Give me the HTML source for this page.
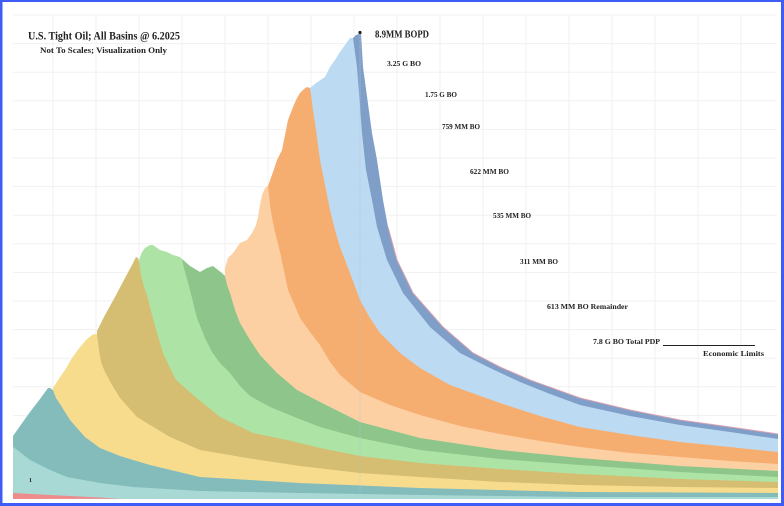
<!DOCTYPE html>
<html>
<head>
<meta charset="utf-8">
<style>
  html, body { margin:0; padding:0; background:#ffffff; }
  svg { display:block; }
  .t { font-family:"Liberation Serif", serif; font-weight:bold; fill:#222; }
</style>
</head>
<body>
<svg width="784" height="506" viewBox="0 0 784 506" xmlns="http://www.w3.org/2000/svg">
  <rect x="0" y="0" width="784" height="506" fill="#ffffff"/>
  <!-- grid -->
  <g stroke="#f1f1f1" stroke-width="1">
    <line x1="13" y1="15" x2="777" y2="15"/>
    <line x1="13" y1="43.6" x2="777" y2="43.6"/>
    <line x1="13" y1="72.2" x2="777" y2="72.2"/>
    <line x1="13" y1="100.8" x2="777" y2="100.8"/>
    <line x1="13" y1="129.4" x2="777" y2="129.4"/>
    <line x1="13" y1="158" x2="777" y2="158"/>
    <line x1="13" y1="186.6" x2="777" y2="186.6"/>
    <line x1="13" y1="215.2" x2="777" y2="215.2"/>
    <line x1="13" y1="243.8" x2="777" y2="243.8"/>
    <line x1="13" y1="272.4" x2="777" y2="272.4"/>
    <line x1="13" y1="301" x2="777" y2="301"/>
    <line x1="13" y1="329.6" x2="777" y2="329.6"/>
    <line x1="13" y1="358.2" x2="777" y2="358.2"/>
    <line x1="13" y1="386.8" x2="777" y2="386.8"/>
    <line x1="13" y1="415.4" x2="777" y2="415.4"/>
    <line x1="13" y1="444" x2="777" y2="444"/>
    <line x1="13" y1="472.6" x2="777" y2="472.6"/>
    <line x1="53" y1="15" x2="53" y2="499"/>
    <line x1="96" y1="15" x2="96" y2="499"/>
    <line x1="139" y1="15" x2="139" y2="499"/>
    <line x1="182" y1="15" x2="182" y2="499"/>
    <line x1="225" y1="15" x2="225" y2="499"/>
    <line x1="268" y1="15" x2="268" y2="499"/>
    <line x1="311" y1="15" x2="311" y2="499"/>
    <line x1="354" y1="15" x2="354" y2="499"/>
    <line x1="397" y1="15" x2="397" y2="499"/>
    <line x1="440" y1="15" x2="440" y2="499"/>
    <line x1="483" y1="15" x2="483" y2="499"/>
    <line x1="526" y1="15" x2="526" y2="499"/>
    <line x1="569" y1="15" x2="569" y2="499"/>
    <line x1="612" y1="15" x2="612" y2="499"/>
    <line x1="655" y1="15" x2="655" y2="499"/>
    <line x1="698" y1="15" x2="698" y2="499"/>
    <line x1="741" y1="15" x2="741" y2="499"/>
  </g>

  <!-- steel blue -->
  <polygon fill="#7f9fc9" points="353,499 353,38 356,35 359,34 361,33 363,67 372,133 377,160 383,200 388,227 397,260 413,293 443,327 473,353 500,367 530,380 580,398 630,410 680,420 730,427 778,434 778,499"/>
  <!-- light blue -->
  <polygon fill="#bcdbf2" points="310,499 310,88 316,83 325,77 330,67 335,60 340,52 345,45 350,38 353,38 357,67 362,133 366,170 372,200 377,227 387,260 403,293 430,327 460,353 490,368 520,382 550,394 580,405 630,416 680,425 730,432 778,439 778,499"/>
  <!-- orange -->
  <polygon fill="#f6ae70" points="268,499 268,186 273,172 277,160 282,150 285,135 288,120 293,107 297,98 300,93 304,89 307,87 310,88 311,95 313,110 316,130 320,160 325,185 330,210 335,230 340,247 350,273 360,300 370,318 380,333 400,353 420,368 450,385 500,403 540,416 580,427 630,435 680,442 730,447 778,452 778,499"/>
  <!-- peach -->
  <polygon fill="#fdd0a4" points="225,499 225,268 228,258 233,253 240,243 247,240 252,233 256,225 258,217 260,205 262,195 265,188 268,186 270,205 272,218 275,232 280,252 288,290 295,306 300,318 310,332 320,345 330,362 340,375 360,392 390,405 420,415 460,426 500,434 540,441 580,447 630,453 680,457 730,461 778,464 778,499"/>
  <!-- green -->
  <polygon fill="#8dc58a" points="182,499 182,259 190,266 200,272 207,268 213,266 218,270 223,274 225,276 227,285 230,293 235,310 240,323 250,340 260,355 277,373 297,390 320,402 360,422 420,438 500,450 580,458 680,466 778,471 778,499"/>
  <!-- light green -->
  <polygon fill="#ade3a5" points="139,499 139,260 142,252 145,248 150,245 153,245 160,250 167,252 173,255 180,257 182,259 184,268 190,290 197,318 205,338 212,352 220,363 230,373 240,386 250,396 270,407 297,418 320,427 360,438 420,450 500,459 580,465 680,472 778,477 778,499"/>
  <!-- khaki -->
  <polygon fill="#d5bd72" points="97,499 97,331 105,315 115,297 125,278 132,265 136,257 138,258 139,262 141,275 144,287 147,295 152,315 157,333 163,353 170,368 176,380 193,395 220,417 253,433 287,440 320,448 360,456 420,463 500,469 580,474 680,479 778,482 778,499"/>
  <!-- yellow -->
  <polygon fill="#f8dc8e" points="53,499 53,388 58,380 65,370 72,358 80,347 86,340 92,335 95,334 97,334 99,350 101,362 105,372 112,385 120,398 137,417 155,428 170,437 200,450 253,459 300,466 360,473 420,477 500,482 580,485 680,487 778,488 778,499"/>
  <!-- teal -->
  <polygon fill="#84bcbc" points="13,499 13,436 20,426 30,412 40,399 48,388 50,388 53,390 56,398 60,404 70,420 85,437 100,448 120,456 150,465 200,477 300,483 420,488 580,492 778,493 778,499"/>
  <!-- light teal -->
  <polygon fill="#a9d9d5" points="13,499 13,447 20,452 30,460 50,470 67,477 100,483 133,487 200,491 300,493 420,495 580,497 778,497 778,499"/>
  <!-- pink bottom -->
  <polygon fill="#ee8c8c" points="13,493 40,494.5 70,496 100,497.5 120,498.7 13,499"/>

  <!-- pink line on top of steel blue -->
  <polyline fill="none" stroke="#d9a0ae" stroke-width="1" points="388,227 397,260 413,293 443,327 473,353 500,367 530,380 580,398 630,410 680,420 730,427 778,434"/>

  <!-- dotted vertical line at peak -->
  <line x1="360" y1="34" x2="360" y2="492" stroke="#b9c5d2" stroke-width="1" stroke-dasharray="2,1" opacity="0.6"/>
  <circle cx="360" cy="32.5" r="1.6" fill="#222"/>

  <!-- small mark -->
  <text class="t" x="29" y="482" font-size="6" fill="#555">1</text>

  <!-- titles -->
  <text class="t" x="28" y="39.5" font-size="11.5" textLength="152" lengthAdjust="spacingAndGlyphs">U.S. Tight Oil; All Basins @ 6.2025</text>
  <text class="t" x="40" y="53" font-size="8.6" textLength="127" lengthAdjust="spacingAndGlyphs">Not To Scales; Visualization Only</text>

  <!-- labels -->
  <text class="t" x="375" y="37.5" font-size="10" textLength="54" lengthAdjust="spacingAndGlyphs">8.9MM BOPD</text>
  <text class="t" x="387" y="66" font-size="7.2" textLength="34" lengthAdjust="spacingAndGlyphs">3.25 G BO</text>
  <text class="t" x="425" y="97" font-size="7.2" textLength="32" lengthAdjust="spacingAndGlyphs">1.75 G BO</text>
  <text class="t" x="442" y="129" font-size="7.2" textLength="38" lengthAdjust="spacingAndGlyphs">759 MM BO</text>
  <text class="t" x="470" y="174" font-size="7.2" textLength="39" lengthAdjust="spacingAndGlyphs">622 MM BO</text>
  <text class="t" x="493" y="218" font-size="7.2" textLength="38" lengthAdjust="spacingAndGlyphs">535 MM BO</text>
  <text class="t" x="520" y="264" font-size="7.2" textLength="38" lengthAdjust="spacingAndGlyphs">311 MM BO</text>
  <text class="t" x="547" y="309" font-size="7.6" textLength="81" lengthAdjust="spacingAndGlyphs">613 MM BO Remainder</text>
  <text class="t" x="593" y="344" font-size="7.6" textLength="67" lengthAdjust="spacingAndGlyphs">7.8 G BO Total PDP</text>
  <line x1="663" y1="345.5" x2="755" y2="345.5" stroke="#222" stroke-width="0.9"/>
  <text class="t" x="703" y="356" font-size="7.6" textLength="61" lengthAdjust="spacingAndGlyphs">Economic Limits</text>

  <!-- blue frame -->
  <rect x="0" y="0" width="784" height="2" fill="#3f5cf6"/>
  <rect x="0" y="503" width="784" height="3" fill="#3f5cf6"/>
  <rect x="0" y="0" width="2.5" height="506" fill="#3f5cf6"/>
  <rect x="781" y="0" width="3" height="506" fill="#3f5cf6"/>
</svg>
</body>
</html>
